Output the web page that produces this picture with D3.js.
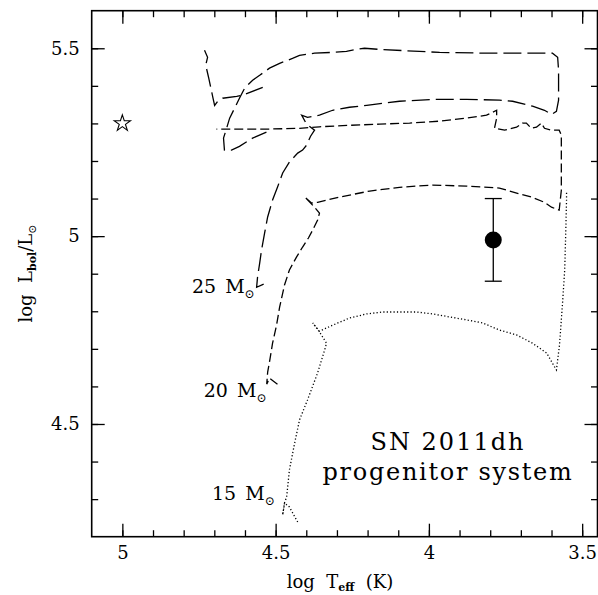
<!DOCTYPE html>
<html>
<head>
<meta charset="utf-8">
<script src="https://cdn.jsdelivr.net/npm/d3@7"></script>
<style>
  body { margin: 0; background: #fff; }
  text { font-family: "DejaVu Serif", serif; fill: #000; }
</style>
</head>
<body>
<div id="chart"></div>
<script>
// tracks, [log Teff, log L]
const track25 = [[4.539,4.872],[4.562,4.864],[4.559,4.891],[4.552,4.928],[4.546,4.963],[4.536,5.008],[4.526,5.051],[4.510,5.096],[4.494,5.130],[4.477,5.168],[4.455,5.197],[4.428,5.221],[4.412,5.229],[4.399,5.242],[4.386,5.266],[4.373,5.282],[4.399,5.298],[4.415,5.322],[4.396,5.316],[4.357,5.322],[4.314,5.335],[4.259,5.343],[4.203,5.348],[4.096,5.359],[3.988,5.364],[3.877,5.364],[3.770,5.362],[3.727,5.359],[3.662,5.346],[3.623,5.335],[3.600,5.324],[3.584,5.332],[3.577,5.362],[3.577,5.441],[3.580,5.476],[3.597,5.487],[3.812,5.487],[3.965,5.489],[4.161,5.497],[4.210,5.500],[4.236,5.497],[4.269,5.492],[4.314,5.489],[4.373,5.487],[4.422,5.481],[4.445,5.473],[4.487,5.460],[4.520,5.447],[4.552,5.428],[4.575,5.415],[4.601,5.394],[4.618,5.367],[4.634,5.340],[4.650,5.314],[4.660,5.287],[4.670,5.261],[4.667,5.229],[4.644,5.229],[4.618,5.239],[4.575,5.261],[4.530,5.277]];
const track25Blue = [[4.542,5.396],[4.608,5.375],[4.627,5.372],[4.673,5.367],[4.689,5.359],[4.699,5.348],[4.705,5.370],[4.718,5.420],[4.728,5.455],[4.722,5.476],[4.732,5.495]];
const track20 = [[4.494,4.606],[4.520,4.622],[4.529,4.606],[4.526,4.638],[4.520,4.665],[4.510,4.715],[4.497,4.763],[4.487,4.811],[4.471,4.870],[4.455,4.910],[4.432,4.944],[4.412,4.971],[4.393,4.995],[4.376,5.021],[4.363,5.043],[4.357,5.061],[4.373,5.077],[4.405,5.104],[4.383,5.088],[4.363,5.090],[4.291,5.104],[4.193,5.120],[4.096,5.130],[3.988,5.136],[3.877,5.133],[3.770,5.128],[3.711,5.114],[3.666,5.104],[3.623,5.090],[3.600,5.077],[3.575,5.069],[3.568,5.122],[3.568,5.202],[3.568,5.269],[3.575,5.282],[3.600,5.282],[3.623,5.287],[3.633,5.301],[3.649,5.290],[3.666,5.287],[3.682,5.301],[3.695,5.301],[3.714,5.290],[3.730,5.287],[3.753,5.282],[3.770,5.285],[3.786,5.287],[3.779,5.314],[3.779,5.335],[3.812,5.322],[3.877,5.314],[3.965,5.306],[4.063,5.301],[4.161,5.298],[4.259,5.295],[4.357,5.291],[4.422,5.287],[4.520,5.285],[4.618,5.285],[4.693,5.285]];
const track15 = [[4.428,4.239],[4.455,4.279],[4.471,4.290],[4.477,4.258],[4.471,4.290],[4.464,4.306],[4.455,4.378],[4.438,4.449],[4.422,4.511],[4.396,4.564],[4.363,4.636],[4.340,4.697],[4.334,4.715],[4.357,4.745],[4.379,4.769],[4.357,4.747],[4.314,4.763],[4.259,4.782],[4.203,4.793],[4.151,4.798],[4.096,4.798],[4.040,4.798],[3.988,4.793],[3.933,4.785],[3.877,4.777],[3.825,4.769],[3.770,4.750],[3.714,4.737],[3.662,4.715],[3.616,4.689],[3.590,4.652],[3.584,4.644],[3.574,4.710],[3.564,4.822],[3.557,4.910],[3.554,4.997],[3.551,5.096],[3.551,5.117]];

const masses = ["25", "20", "15"];
const companion = [[5.0, 5.3]];
const progenitor = [[3.79, 4.99, 0.11]];   // logT, logL, error
const xMajor = [5, 4.5, 4, 3.5];
const yMajor = [4.5, 5, 5.5];
const xMinor = d3.range(35, 51).map(d => d / 10);
const yMinor = d3.range(43, 56).map(d => d / 10);

var width = 598, height = 595;
const margin = {left: 91.7, right: 0.5, top: 10.7, bottom: 58.3};

const x = d3.scaleLinear().domain([5.1, 3.45]).range([margin.left, width - margin.right]);
const y = d3.scaleLinear().domain([4.2, 5.6]).range([height - margin.bottom, margin.top]);

const tracks = [
  {mass: masses[0], segments: [track25, track25Blue], dash: "18,6", shift: [-9, 9]},
  {mass: masses[1], segments: [track20], dash: "9,4", shift: [-11, 13]},
  {mass: masses[2], segments: [track15], dash: "1.2,2.2", shift: [-23, -22]}
];

const svg = d3.select('#chart').append('svg')
    .attr('width', width)
    .attr('height', height);

// ticks on all four sides, pointing inwards
function ticks(axis, pos, values, size, fmt, pad) {
  var g = svg.append('g')
    .attr('transform', pos)
    .call(axis.tickValues(values).tickSize(-size).tickPadding(pad || 3)
      .tickFormat(fmt || (() => '')));
  g.select('.domain').remove();
  g.selectAll('line').attr('stroke-width', 1.3);
  g.attr('font-size', 18);
  return g;
}

const x0 = x.range()[0], x1 = x.range()[1];
const y0 = y.range()[0], y1 = y.range()[1];

ticks(d3.axisBottom(x), `translate(0,${y0})`, xMinor, 6.5);
ticks(d3.axisTop(x), `translate(0,${y1})`, xMinor, 6.5);
ticks(d3.axisLeft(y), `translate(${x0},0)`, yMinor, 6.5);
ticks(d3.axisRight(y), `translate(${x1},0)`, yMinor, 6.5);
ticks(d3.axisBottom(x), `translate(0,${y0})`, xMajor, 13, d3.format(''), 10);
ticks(d3.axisTop(x), `translate(0,${y1})`, xMajor, 13);
ticks(d3.axisLeft(y), `translate(${x0},0)`, yMajor, 13, d3.format(''), 12);
ticks(d3.axisRight(y), `translate(${x1},0)`, yMajor, 13);

svg.append('rect')
  .attr('x', x0).attr('y', y1)
  .attr('width', x1 - x0).attr('height', y0 - y1)
  .style('fill', 'none').style('stroke', '#000').style('stroke-width', 1.6);

// evolutionary tracks
const line = d3.line().x(d => x(d[0])).y(d => y(d[1]));

tracks.forEach(t => {
  t.segments.forEach(seg => {
    svg.append('path')
      .attr('d', line(seg))
      .style('fill', 'none')
      .style('stroke', '#000')
      .style('stroke-width', 1.3)
      .style('stroke-dasharray', t.dash);
  });
  var p = t.segments[0][0];
  var lab = svg.append('text')
    .attr('x', x(p[0]) + t.shift[0])
    .attr('y', y(p[1]) + t.shift[1])
    .attr('text-anchor', 'end')
    .attr('font-size', 19);
  lab.append('tspan').text(t.mass);
  lab.append('tspan').attr('dx', 9).text('M');
  lab.append('tspan').attr('dy', 5).attr('font-size', 12).text('\u2299');
});

// hot companion
svg.selectAll('.star')
  .data(companion)
  .join('path')
    .attr('class', 'star')
    .attr('transform', d => `translate(${x(d[0])},${y(d[1])})`)
    .attr('d', d3.symbol(d3.symbolStar, 82))
    .style('fill', 'none').style('stroke', '#000').style('stroke-width', 1.1);

// progenitor with error bar
var prog = svg.selectAll('.prog').data(progenitor).join('g').attr('class', 'prog');
prog.append('line')
  .attr('x1', d => x(d[0])).attr('x2', d => x(d[0]))
  .attr('y1', d => y(d[1] - d[2])).attr('y2', d => y(d[1] + d[2]));
[-1, 1].forEach(s => {
  prog.append('line')
    .attr('x1', d => x(d[0]) - 8.5).attr('x2', d => x(d[0]) + 8.5)
    .attr('y1', d => y(d[1] + s * d[2])).attr('y2', d => y(d[1] + s * d[2]));
});
prog.selectAll('line').style('stroke', '#000').style('stroke-width', 1.3);
prog.append('circle')
  .attr('cx', d => x(d[0])).attr('cy', d => y(d[1]))
  .attr('r', 8.5).style('fill', '#000');

// axis titles
var xt = svg.append('text')
  .attr('x', 340).attr('y', 588)
  .attr('text-anchor', 'middle').attr('font-size', 18);
xt.append('tspan').text('log\u00a0\u00a0T');
xt.append('tspan').attr('dy', 3).attr('font-size', 11).attr('font-weight', 'bold').text('eff');
xt.append('tspan').attr('dy', -3).text('\u00a0\u00a0(K)');

var yt = svg.append('text')
  .attr('transform', 'translate(32,273.5) rotate(-90)')
  .attr('text-anchor', 'middle').attr('font-size', 18);
yt.append('tspan').text('log\u00a0\u00a0L');
yt.append('tspan').attr('dy', 4).attr('font-size', 11).attr('font-weight', 'bold').text('bol');
yt.append('tspan').attr('dy', -4).text('/L');
yt.append('tspan').attr('dy', 4).attr('font-size', 11).text('\u2299');

// caption
svg.append('text')
  .attr('x', 448).attr('y', 450)
  .attr('text-anchor', 'middle').attr('font-size', 24)
  .style('letter-spacing', '2px')
  .text('SN 2011dh');
svg.append('text')
  .attr('x', 448).attr('y', 480)
  .attr('text-anchor', 'middle').attr('font-size', 24)
  .style('letter-spacing', '1.7px')
  .text('progenitor system');
</script>
</body>
</html>
